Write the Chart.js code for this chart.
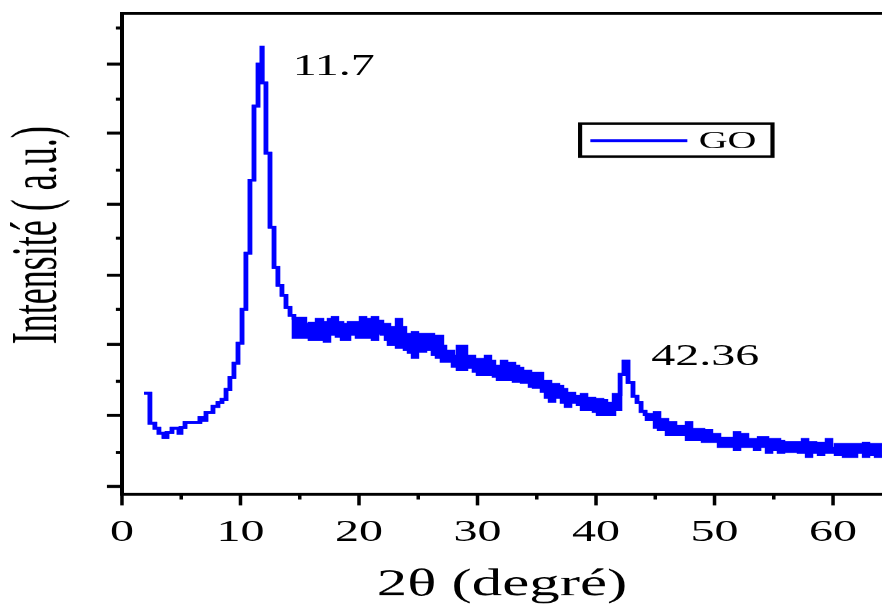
<!DOCTYPE html>
<html>
<head>
<meta charset="utf-8">
<script src="https://cdn.jsdelivr.net/npm/chart.js@4.4.0/dist/chart.umd.min.js"></script>
<style>
  html, body { margin: 0; padding: 0; background: #fff; overflow: hidden; }
  /* the original figure is stretched sideways, so the whole chart is too */
  #wrap { position: absolute; left: 0; top: 0; width: 551px; height: 604px;
          transform: scaleX(1.6007); transform-origin: 0 0; }
</style>
</head>
<body>
<div id="wrap"><canvas id="xrd"></canvas></div>
<script>
// XRD scan of GO : 2theta (deg) and the upper / lower edge of the noisy trace (a.u.)
const twoTheta = [
  1.86, 2.36, 2.78, 3.12, 3.54, 3.80, 4.22, 4.81, 4.98, 5.32, 6.58, 6.92, 7.09, 7.68, 8.10,
  8.44, 8.78, 9.11, 9.45, 9.79, 10.13, 10.46, 10.80, 11.14, 11.48, 11.81, 11.83, 12.15, 12.49,
  12.83, 13.16, 13.50, 13.84, 14.18,
  14.51, 15.44, 15.86, 16.46, 16.88, 17.13, 17.47, 17.81, 18.14, 18.57, 19.16, 19.83, 20.17,
  20.51, 20.84, 21.18, 21.52, 21.94, 22.28, 22.53, 22.87, 23.21, 23.54, 23.88, 24.22, 24.56,
  24.89, 25.57, 25.91, 26.24, 26.58, 27.00, 27.26, 27.93, 28.35, 29.03, 29.70, 30.04, 30.72,
  31.05, 31.39, 31.73, 32.07, 32.41, 33.08, 33.42, 33.76, 34.43, 34.77, 35.11, 35.44, 35.78,
  36.12, 36.46, 36.79, 37.13, 37.47, 37.81, 38.14, 38.48, 38.82, 39.16, 39.49, 39.83, 40.17,
  40.51, 40.84, 41.52,
  42.03, 42.36, 42.70, 43.12, 43.46, 43.80, 44.14,
  44.30, 44.98, 45.32, 45.99, 46.33, 46.67, 47.68, 48.02, 49.03, 49.37, 49.70, 50.04, 50.38,
  51.73, 52.07, 52.41, 52.74, 53.42, 53.76, 54.43, 54.77, 55.11, 55.44, 55.78, 57.13, 57.47,
  57.81, 58.14, 58.48, 58.82, 59.16, 59.49, 59.83, 60.25, 60.59, 60.93, 61.27, 61.60, 61.94,
  62.62, 62.95, 63.63, 64.13
];
const intensityTop = [
  93, 63, 58, 53, 49, 54, 58, 53, 59, 64, 69, 66, 74, 80, 84,
  87, 97, 109, 123, 143, 177, 233, 306, 380, 422, 439, 403, 333, 259,
  219, 201, 191, 179, 171,
  168, 162, 163, 167, 164, 159, 167, 169, 164, 162, 164, 163, 169,
  162, 167, 169, 165, 158, 162, 157, 159, 167, 159, 152, 147, 154,
  152, 147, 152, 150, 150, 140, 135, 130, 140, 130, 127, 127, 130,
  125, 120, 120, 125, 123, 120, 118, 115, 113, 110, 113, 105, 105,
  102, 102, 100, 97, 90, 93, 90, 88, 92, 87, 88, 83, 87,
  86, 83, 92,
  112, 125, 104, 90, 84, 75, 72,
  72, 74, 67, 62, 64, 60, 64, 57, 50, 56, 48, 52, 48,
  54, 48, 52, 47, 47, 49, 42, 47, 47, 45, 44, 43, 47,
  38, 44, 42, 43, 38, 47, 38, 42, 42, 38, 42, 38, 42,
  43, 42, 42, 42
];
const intensityBottom = [
  93, 63, 58, 53, 49, 54, 58, 53, 59, 64, 69, 66, 74, 80, 84,
  87, 97, 109, 123, 143, 177, 233, 306, 380, 422, 439, 403, 333, 259,
  219, 201, 191, 179, 171,
  149, 149, 147, 147, 153, 145, 152, 153, 150, 147, 152, 149, 155,
  149, 155, 147, 153, 152, 147, 142, 145, 139, 144, 137, 134, 129,
  135, 137, 139, 132, 129, 125, 125, 120, 117, 119, 115, 112, 115,
  112, 110, 107, 112, 107, 105, 105, 104, 100, 99, 99, 95, 89,
  85, 90, 89, 84, 80, 85, 84, 82, 77, 79, 77, 75, 72,
  75, 72, 77,
  112, 125, 104, 90, 84, 75, 72,
  67, 59, 57, 52, 57, 52, 47, 47, 45, 49, 45, 47, 40,
  37, 40, 40, 40, 37, 40, 34, 40, 37, 34, 35, 34, 39,
  30, 37, 34, 32, 34, 34, 34, 32, 34, 30, 34, 30, 34,
  30, 32, 30, 30
];
const xTickValues = [0, 10, 20, 30, 40, 50, 60];
const xMinorTicks = [5, 15, 25, 35, 45, 55];
const yMajorTicks = [0, 71, 142, 211, 282, 353, 422];
const yMinorTicks = [34, 105, 177, 248, 316, 387, 458];

const serif = "'Liberation Serif', 'Times New Roman', serif";
Chart.defaults.font.family = serif;
Chart.defaults.color = '#000';

const peaks = [
  { text: '11.7', x: 14.4, y: 411 },
  { text: '42.36', x: 44.65, y: 121 }
];

function seg(ctx, x1, y1, x2, y2) {
  ctx.beginPath(); ctx.moveTo(x1, y1); ctx.lineTo(x2, y2); ctx.stroke();
}

const decor = {
  id: 'decor',
  afterDraw(chart) {
    const ctx = chart.ctx, a = chart.chartArea;
    const xs = chart.scales.x, ys = chart.scales.y;
    ctx.save();
    ctx.strokeStyle = '#000';
    ctx.lineCap = 'butt';

    // top frame line
    ctx.lineWidth = 3;
    seg(ctx, a.left - 1.2, a.top, a.right, a.top);

    // outward ticks
    ctx.lineWidth = 3;
    yMajorTicks.forEach(v => { const p = ys.getPixelForValue(v); seg(ctx, a.left - 9.4, p, a.left, p); });
    yMinorTicks.forEach(v => { const p = ys.getPixelForValue(v); seg(ctx, a.left - 3.8, p, a.left, p); });
    ctx.lineWidth = 2.2;
    xTickValues.forEach(v => { const p = xs.getPixelForValue(v); seg(ctx, p, a.bottom, p, a.bottom + 11.5); });
    xMinorTicks.forEach(v => { const p = xs.getPixelForValue(v); seg(ctx, p, a.bottom, p, a.bottom + 5.5); });

    // y title (glyphs a little taller, as in the source figure)
    ctx.fillStyle = '#000';
    ctx.save();
    ctx.translate(35, 235);
    ctx.rotate(-Math.PI / 2);
    ctx.scale(1, 1.15);
    ctx.font = '36px ' + serif;
    ctx.textAlign = 'center';
    ctx.textBaseline = 'alphabetic';
    ctx.fillText('Intensité ( a.u.)', 0, 0);
    ctx.restore();

    // peak positions
    ctx.font = '30px ' + serif;
    ctx.textAlign = 'left';
    ctx.textBaseline = 'alphabetic';
    peaks.forEach(p => ctx.fillText(p.text, xs.getPixelForValue(p.x), ys.getPixelForValue(p.y)));

    // framed legend
    const ds = chart.data.datasets[0];
    ctx.lineWidth = 2.6;
    ctx.strokeRect(362.4, 123.5, 120.2, 33);
    ctx.strokeStyle = ds.borderColor;
    ctx.lineWidth = 3;
    seg(ctx, 368.8, 140.5, 429.4, 140.5);
    ctx.font = '25px ' + serif;
    ctx.fillText(ds.label, 436.5, 148);
    ctx.restore();
  }
};

new Chart(document.getElementById('xrd'), {
  type: 'line',
  data: {
    datasets: [
      {
        label: 'GO',
        data: twoTheta.map((t, i) => ({ x: t, y: intensityTop[i] })),
        borderColor: '#0000ff',
        borderWidth: 2.8,
        borderJoinStyle: 'miter',
        stepped: true,
        pointRadius: 0,
        fill: false
      },
      {
        label: 'GO (lower edge)',
        data: twoTheta.map((t, i) => ({ x: t, y: intensityBottom[i] })),
        borderColor: '#0000ff',
        backgroundColor: '#0000ff',
        borderWidth: 2.8,
        borderJoinStyle: 'miter',
        stepped: true,
        pointRadius: 0,
        fill: '-1'
      }
    ]
  },
  options: {
    responsive: true,
    maintainAspectRatio: false,
    devicePixelRatio: 1.6007,
    animation: false,
    layout: { autoPadding: false, padding: { top: 13.3, right: 0, left: 0, bottom: 0 } },
    plugins: { legend: { display: false }, tooltip: { enabled: false } },
    scales: {
      x: {
        type: 'linear',
        min: 0,
        max: 64.13,
        afterBuildTicks: s => { s.ticks = xTickValues.map(v => ({ value: v })); },
        afterFit: s => { s.height = 110.5; s.paddingLeft = 0; s.paddingRight = 0; },
        grid: { display: false, drawTicks: false },
        border: { display: true, color: '#000', width: 3 },
        ticks: { font: { size: 30 }, color: '#000', padding: 21, maxRotation: 0, autoSkip: false },
        title: {
          display: true,
          text: '2θ (degré)',
          color: '#000',
          font: { size: 38, lineHeight: 1 },
          padding: { top: 0, bottom: 0 }
        }
      },
      y: {
        min: -7.5,
        max: 472.7,
        afterFit: s => { s.width = 76.2; },
        grid: { display: false, drawTicks: false },
        border: { display: true, color: '#000', width: 2.5 },
        ticks: { display: false }
      }
    }
  },
  plugins: [decor]
});
</script>
</body>
</html>
